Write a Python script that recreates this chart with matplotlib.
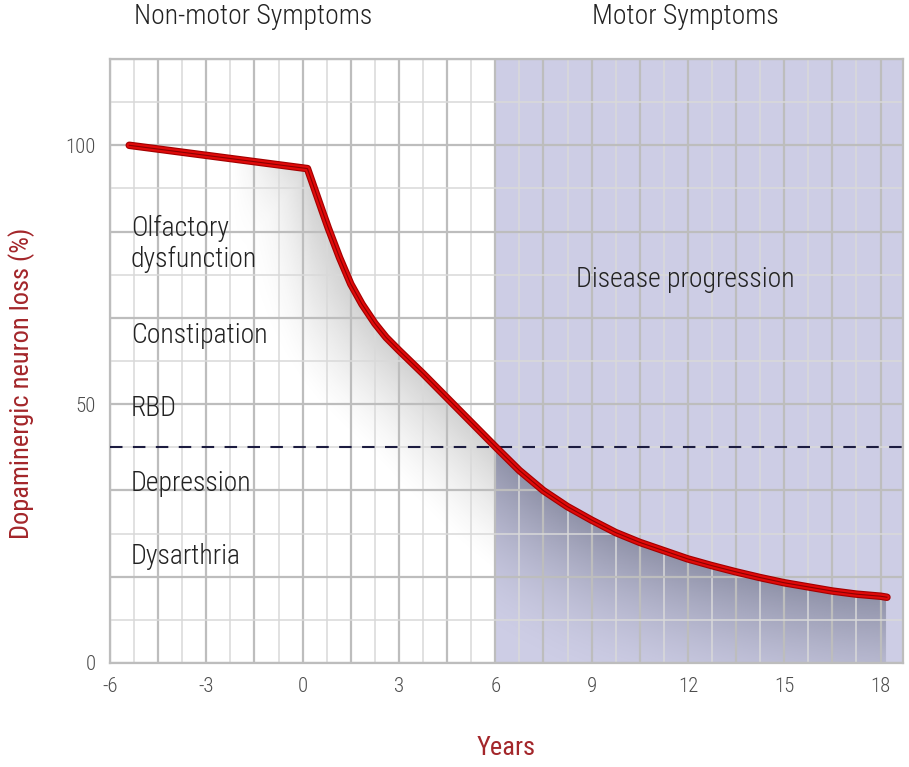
import numpy as np
import matplotlib
matplotlib.use('Agg')
import matplotlib.pyplot as plt
from matplotlib import font_manager as fm
from matplotlib.colors import to_rgb

# pick a narrow face if one is installed
faces = [(f.name, f.stretch, f.weight) for f in fm.fontManager.ttflist]
names = {n for n, s, w in faces}
stretch = 'normal'
weight = 'normal'
if 'Roboto Condensed' in names:
    family = 'Roboto Condensed'
    weight = 'light'
elif 'Liberation Sans Narrow' in names:
    family = 'Liberation Sans Narrow'
elif any(n == 'DejaVu Sans' and s in ('condensed', 'semi-condensed') for n, s, w in faces):
    family = 'DejaVu Sans'
    stretch = 'condensed'
else:
    family = 'Roboto'
    weight = 'light'
plt.rcParams['font.family'] = [family, 'DejaVu Sans']
plt.rcParams['font.stretch'] = stretch
plt.rcParams['font.weight'] = weight
plt.rcParams['axes.unicode_minus'] = False

# curve: years vs dopaminergic neuron loss (%)
years = [-5.4, 0.15, 0.37, 0.6, 0.8, 1.15, 1.5, 1.85, 2.25, 2.6, 3.0, 3.75, 4.5, 5.25, 6.0, 6.75, 7.5,
         8.25, 9.0, 9.75, 10.5, 11.25, 12.0, 12.75, 13.5, 14.25, 15.0, 15.75, 16.5, 17.25, 18.0, 18.2]
loss = [100, 95.5, 91.6, 87.5, 84.0, 78.3, 73.2, 69.3, 65.6, 62.9, 60.4, 55.9, 51.2, 46.5, 41.8, 37.2, 33.3,
        30.2, 27.6, 25.2, 23.3, 21.7, 20.1, 18.8, 17.6, 16.5, 15.5, 14.7, 13.9, 13.3, 12.9, 12.7]

threshold = 41.7
motor_onset = 6
xticks = [-6, -3, 0, 3, 6, 9, 12, 15, 18]
yticks = [0, 50, 100]
symptoms = ['Olfactory\ndysfunction', 'Constipation', 'RBD', 'Depression', 'Dysarthria']
symptom_y = [80.9, 63.3, 49.2, 34.6, 20.5]

xmin, xmax = -6, 18.7
ymin, ymax = 0, 116.67

fig = plt.figure(figsize=(9.09, 7.67), dpi=100)
ax = fig.add_axes([110 / 909, 104 / 767, 793 / 909, 604 / 767])
ax.set_xlim(xmin, xmax)
ax.set_ylim(ymin, ymax)

# motor symptom phase background
ax.axvspan(motor_onset, xmax, color='#cdcde5', zorder=0, lw=0)

# shading under the curve (distance to curve in pixel space)
W, H = 700, 540
sx = 793 / (xmax - xmin)
sy = 604 / (ymax - ymin)
gx = np.linspace(xmin, xmax, W)
gy = np.linspace(ymin, ymax, H)
GX, GY = np.meshgrid(gx, gy)
cx = np.linspace(years[0], years[-1], 600)
cy = np.interp(cx, years, loss)
below = GY < np.interp(GX, years, loss)
dist = np.full(GX.shape, 1e9)
for px, py in zip(cx, cy):
    d = np.hypot((GX - px) * sx, (GY - py) * sy)
    np.minimum(dist, d, out=dist)

img = np.zeros((H, W, 4))
white_side = below & (GX < motor_onset)
ramp = np.clip((GX + 2.2) / 2.5, 0, 1)
a_w = 0.4 * np.clip(1 - dist / 95, 0, 1) ** 1.4 * ramp
blue_side = below & (GX >= motor_onset) & (GX <= years[-1])
a_b = 0.82 * np.clip(1 - dist / 145, 0, 1) ** 1.7
gray = to_rgb('#8a8a8a')
slate = to_rgb('#808399')
for k in range(3):
    img[..., k] = np.where(blue_side, slate[k], gray[k])
img[..., 3] = np.where(white_side, a_w, 0) + np.where(blue_side, a_b, 0)
ax.imshow(img, extent=[xmin, xmax, ymin, ymax], origin='lower', aspect='auto',
          interpolation='bilinear', zorder=1)

# grid
for i, xv in enumerate(np.arange(xmin, xmax + 0.01, 0.75)):
    major = i % 2 == 0
    ax.axvline(xv, color='#bdbdbd' if major else '#d9d9d9', lw=1.6 if major else 1.1, zorder=2)
for i, yv in enumerate(np.linspace(ymin, ymax, 15)):
    major = i % 2 == 0
    ax.axhline(yv, color='#bdbdbd' if major else '#d9d9d9', lw=1.6 if major else 1.1, zorder=2)

ax.axhline(threshold, color='#1c1c40', lw=1.5, dashes=(6, 5), zorder=3)

# curve
ax.plot(years, loss, color='#a30000', lw=5.4, solid_capstyle='round', solid_joinstyle='round', zorder=5)
ax.plot(years, loss, color='#e00a0a', lw=3.8, solid_capstyle='round', solid_joinstyle='round', zorder=6)
ax.plot(years, loss, color='#8a0000', lw=0.8, solid_joinstyle='round', zorder=7)

for spine in ax.spines.values():
    spine.set_color('#bdbdbd')
    spine.set_linewidth(1.6)

ax.set_xticks(xticks)
ax.set_yticks(yticks)
ax.tick_params(length=0, labelsize=15, labelcolor='#4d4d4d', pad=10)
ax.set_xlabel('Years', fontsize=19, color='#a3262a', va='center')
ax.xaxis.set_label_coords(0.5, -(748 - 663) / 604)
ax.set_ylabel('Dopaminergic neuron loss (%)', fontsize=19, color='#a3262a', va='center')
ax.yaxis.set_label_coords(-(110 - 22) / 793, (663 - 383) / 604)

for label, yv in zip(symptoms, symptom_y):
    ax.text(-5.35, yv, label, fontsize=20, color='#222222', va='center', ha='left',
            linespacing=1.2, zorder=4)
ax.text(11.92, 74.1, 'Disease progression', fontsize=20, color='#222222', ha='center', va='center', zorder=4)

ax.text(-1.55, 1.0 + 42 / 604, 'Non-motor Symptoms', transform=ax.get_xaxis_transform(),
        fontsize=20, color='#222222', ha='center', va='center')
ax.text(11.92, 1.0 + 42 / 604, 'Motor Symptoms', transform=ax.get_xaxis_transform(),
        fontsize=20, color='#222222', ha='center', va='center')

fig.savefig('out.png', dpi=100)
